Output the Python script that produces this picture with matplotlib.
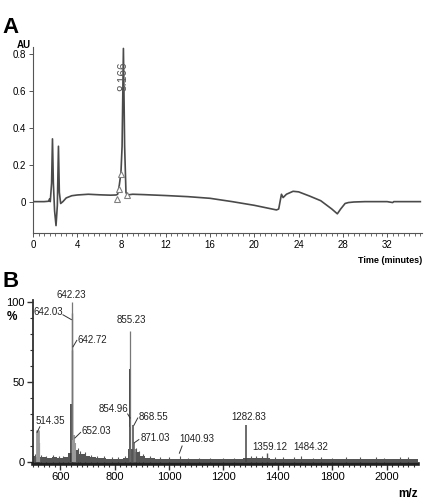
import matplotlib
matplotlib.use("Agg")
import matplotlib.pyplot as plt
from matplotlib.ticker import MultipleLocator
from matplotlib.lines import Line2D

plt.rcParams['font.family'] = ['Liberation Sans', 'DejaVu Sans']

# ---------------- Panel A data: chromatogram ----------------
time_min = [0, 1.0, 1.4, 1.5, 1.56, 1.68, 1.76, 1.84, 1.95, 2.08, 2.2, 2.3, 2.38, 2.5,
            2.7, 3.0, 3.5, 4.0, 5.0, 6.0, 7.0, 7.5, 7.65, 7.8, 7.95, 8.05, 8.17, 8.28,
            8.4, 8.5, 9.0, 10.0, 12.0, 14.0, 16.0, 18.0, 20.0, 22.0, 22.2, 22.45, 22.6,
            22.9, 23.5, 24.0, 25.0, 26.0, 27.0, 27.5, 27.8, 28.2, 28.5, 29.0, 30.0,
            32.0, 32.5, 32.6, 35.0]
absorb_au = [0.0, 0.0, 0.002, 0.015, 0.0, 0.1, 0.34, 0.1, -0.05, -0.13, -0.02, 0.3, 0.05, -0.01,
             0.0, 0.02, 0.032, 0.036, 0.04, 0.037, 0.035, 0.036, 0.04, 0.09, 0.16, 0.3, 0.83, 0.3,
             0.05, 0.036, 0.04, 0.038, 0.033, 0.027, 0.018, 0.0, -0.02, -0.045, -0.04, 0.04, 0.022,
             0.04, 0.056, 0.053, 0.03, 0.005, -0.04, -0.066, -0.04, -0.01, -0.005, -0.002, 0.0,
             0.0, -0.005, 0.0, 0.0]
marker_t = [7.6, 7.77, 7.95, 8.46]
marker_au = [0.012, 0.068, 0.15, 0.036]
peak_label = "8.166"
peak_label_t = 8.2
peak_label_au = 0.68

a_xticks = [0, 4, 8, 12, 16, 20, 24, 28, 32]
a_yticks = [0, 0.2, 0.4, 0.6, 0.8]
a_yticklabels = ["0", "0.2", "0.4", "0.6", "0.8"]

# ---------------- Panel B data: mass spectrum ----------------
noise_mz = [500, 520, 540, 560, 580, 600, 620, 640, 660, 680, 700, 720, 740, 760, 780,
            800, 820, 840, 860, 880, 900, 920, 940, 960, 980, 1000, 1020, 1040, 1060,
            1080, 1100, 1120, 1140, 1160, 1180, 1200, 1220, 1240, 1260, 1280, 1300, 1320,
            1340, 1360, 1380, 1400, 1420, 1440, 1460, 1480, 1500, 1520, 1540, 1560, 1580,
            1600, 1620, 1640, 1660, 1680, 1700, 1720, 1740, 1760, 1780, 1800, 1820, 1840,
            1860, 1880, 1900, 1915]
noise_pct = [3.5, 3.0, 3.2, 2.8, 3.0, 2.6, 3.0, 5.5, 7.5, 5.0, 3.5, 3.0, 2.6, 2.2, 2.0,
             2.0, 2.0, 2.8, 8.0, 6.0, 3.5, 2.6, 2.2, 2.0, 1.8, 1.8, 1.8, 1.9, 1.8,
             1.7, 1.8, 1.7, 1.8, 1.6, 1.8, 1.7, 1.8, 1.7, 1.8, 2.2, 2.6, 2.4,
             2.2, 2.3, 2.0, 2.0, 1.8, 1.7, 1.8, 1.9, 1.7, 1.6, 1.7, 1.8, 1.6,
             1.7, 1.6, 1.7, 1.9, 1.7, 1.6, 1.7, 1.8, 1.6, 1.7, 1.8, 1.7, 1.6,
             1.8, 1.7, 1.6, 1.6]
spike_mz = [508, 530, 548, 575, 596, 612, 628, 664, 672, 690, 712, 735, 760, 790, 812, 838,
            880, 888, 905, 930, 965, 1000, 1070, 1110, 1150, 1200, 1240, 1300, 1318, 1340,
            1390, 1420, 1460, 1530, 1560, 1600, 1650, 1700, 1760, 1790, 1850, 1880]
spike_pct = [5, 4.5, 4, 4.5, 4, 3.5, 4, 9, 7, 6, 4.5, 4, 3.5, 3, 3, 3.5,
             9, 7, 5, 3.5, 3, 3, 2.8, 2.6, 2.6, 2.7, 2.6, 4, 3.8, 3.5,
             3.2, 3, 3, 2.8, 3, 2.8, 3.2, 3, 3.2, 2.8, 3.2, 3]
peak_mz = [514.35, 518.5, 523.0, 640.6, 642.03, 642.23, 642.72, 646.0, 652.03, 656.0,
           854.96, 855.23, 858.0, 868.55, 871.03, 875.0, 1040.93, 1282.83, 1359.12, 1484.32]
peak_pct = [20, 20, 12, 36, 93, 100, 70, 14, 17, 12,
            58, 82, 22, 23, 12, 8, 4, 23, 5.5, 3.5]
label_text = ["514.35", "642.23", "642.03", "642.72", "652.03", "855.23", "854.96",
              "868.55", "871.03", "1040.93", "1282.83", "1359.12", "1484.32"]
b_xticks = [600, 800, 1000, 1200, 1400, 1600, 1800]
b_xticklabels = ["600", "800", "1000", "1200", "1400", "1800", "2000"]
b_yticks = [0, 50, 100]

W, H = 427, 499
fig = plt.figure(figsize=(W / 100, H / 100), dpi=100)

def fx(px):
    return px / W

def fy(py):
    return 1 - py / H

line_col = "#4a4a4a"
axis_col = "#303030"

# ---------------- Panel A ----------------
axA = fig.add_axes([fx(33), fy(233), fx(422) - fx(33), fy(47) - fy(233)])
axA.plot(time_min, absorb_au, color=line_col, lw=1.2, solid_joinstyle="round")
axA.plot(marker_t, marker_au, linestyle="none", marker="^", ms=5, mfc="white",
         mec="#808080", mew=0.8)
axA.text(peak_label_t, peak_label_au, peak_label, rotation=90, ha="center", va="center",
         fontsize=8.5, color="#5a5a5a")
axA.set_xlim(0, 35.15)
axA.set_ylim(-0.170, 0.838)
for s in ["top", "right"]:
    axA.spines[s].set_visible(False)
axA.spines["left"].set_color("#555555")
axA.spines["bottom"].set_color("#555555")
axA.spines["left"].set_linewidth(0.8)
axA.spines["bottom"].set_linewidth(0.8)
axA.set_xticks(a_xticks)
axA.xaxis.set_minor_locator(MultipleLocator(0.5))
axA.set_yticks(a_yticks)
axA.set_yticklabels(a_yticklabels)
axA.tick_params(axis="both", which="major", labelsize=7, color="#555555", length=3,
                width=0.7, pad=2)
axA.tick_params(axis="x", which="minor", length=2, width=0.6, color="#555555")
fig.text(fx(2), fy(33), "A", fontsize=16, fontweight="bold", ha="left", va="baseline")
fig.text(fx(17), fy(48), "AU", fontsize=7, fontweight="bold", ha="left", va="baseline")
fig.text(fx(422), fy(263), "Time (minutes)", fontsize=6.5, fontweight="bold",
         ha="right", va="baseline")

# ---------------- Panel B ----------------
axB = fig.add_axes([fx(33), fy(464), fx(418) - fx(33), fy(300) - fy(464)])
axB.fill_between(noise_mz, 0, noise_pct, step="mid", color="#555555", lw=0)
axB.vlines(spike_mz, 0, spike_pct, color="#555555", lw=0.8)
peak_colors = ["#999999", "#999999", "#999999", "#333333", "#777777", "#777777", "#777777",
               "#999999", "#999999", "#999999", "#444444", "#777777", "#666666", "#555555",
               "#666666", "#777777", "#555555", "#444444", "#555555", "#555555"]
peak_widths = [2.0, 2.0, 1.6, 1.2, 1.0, 0.9, 1.0, 1.5, 1.5, 1.5,
               1.4, 0.9, 1.2, 1.2, 1.2, 1.2, 0.8, 1.1, 1.0, 0.8]
axB.vlines(peak_mz, 0, peak_pct, colors=peak_colors, linewidths=peak_widths)
axB.set_xlim(500, 1915)
axB.set_ylim(-1.25, 101.25)
for s in ["top", "right"]:
    axB.spines[s].set_visible(False)
axB.spines["left"].set_color(axis_col)
axB.spines["left"].set_linewidth(1.3)
axB.spines["bottom"].set_color("#202020")
axB.spines["bottom"].set_linewidth(2.6)
axB.set_xticks(b_xticks)
axB.set_xticklabels(b_xticklabels)
axB.xaxis.set_minor_locator(MultipleLocator(20))
axB.set_yticks(b_yticks)
axB.yaxis.set_minor_locator(MultipleLocator(10))
axB.tick_params(axis="both", which="major", labelsize=8, color=axis_col, length=4,
                width=1.0, pad=2)
axB.tick_params(axis="both", which="minor", length=2.5, width=0.8, color=axis_col)

lab_fs = 7
# (text, x, y, ha) in data coords (y = text baseline region bottom)
label_pos = [
    (label_text[0], 511, 22.5, "left"),
    (label_text[1], 642.5, 101.5, "center"),
    (label_text[2], 610, 90.5, "right"),
    (label_text[3], 662, 73, "left"),
    (label_text[4], 678, 16, "left"),
    (label_text[5], 862, 85.5, "center"),
    (label_text[6], 850, 30, "right"),
    (label_text[7], 890, 25, "left"),
    (label_text[8], 894, 12, "left"),
    (label_text[9], 1037, 11.5, "left"),
    (label_text[10], 1292, 25, "center"),
    (label_text[11], 1305, 6.5, "left"),
    (label_text[12], 1455, 6, "left"),
]
for txt, x, y, ha in label_pos:
    axB.text(x, y, txt, fontsize=lab_fs, ha=ha, va="bottom", color="#222222",
             clip_on=False)
leaders = [
    (515, 18.5, 525, 22),
    (610, 92, 641, 89),
    (647, 72, 661, 76),
    (654, 15, 675, 18.5),
    (848, 30, 857, 27.5),
    (871, 23, 885, 27.5),
    (872, 12, 889, 14),
    (1038, 5.5, 1048, 10),
]
for x0, y0, x1, y1 in leaders:
    axB.add_line(Line2D([x0, x1], [y0, y1], color="#333333", lw=0.7))

fig.text(fx(2), fy(287), "B", fontsize=16, fontweight="bold", ha="left", va="baseline")
fig.text(fx(7), fy(320), "%", fontsize=8.5, fontweight="bold", ha="left", va="baseline")
fig.text(fx(418), fy(497), "m/z", fontsize=8.5, fontweight="bold", ha="right",
         va="baseline")

fig.savefig("out.png", dpi=100)
